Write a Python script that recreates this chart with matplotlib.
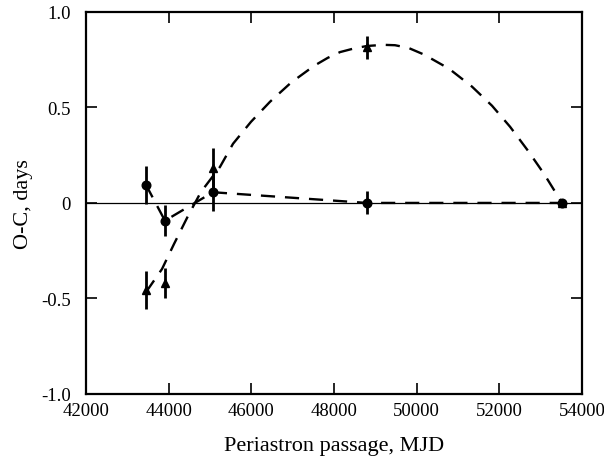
import matplotlib
matplotlib.use("Agg")
import matplotlib.pyplot as plt

plt.rcParams['font.family'] = ['Liberation Serif', 'DejaVu Serif']
plt.rcParams['axes.unicode_minus'] = False

# circle series (observed O-C)
circ_x = [43450, 43910, 45070, 48800, 53520]
circ_y = [0.095, -0.093, 0.056, 0.0, 0.0]
circ_err = [0.10, 0.08, 0.10, 0.06, 0.0]

# triangle series
tri_x = [43450, 43910, 45070, 48800, 53520]
tri_y = [-0.457, -0.42, 0.184, 0.815, 0.0]
tri_err = [0.10, 0.08, 0.105, 0.06, 0.0]

# dashed fit curve through triangles
fit_x = [43452, 43839, 44129, 44468, 44782, 45242, 45557, 45992, 46452, 46960,
         47517, 47850, 48146, 48500, 48799, 49200, 49476, 49800, 50178, 50783,
         51339, 51823, 52259, 52694, 53082, 53517]
fit_y = [-0.467, -0.346, -0.215, -0.068, 0.058, 0.189, 0.310, 0.425, 0.530, 0.630,
         0.718, 0.760, 0.790, 0.810, 0.822, 0.828, 0.826, 0.812, 0.777, 0.703,
         0.609, 0.509, 0.399, 0.273, 0.152, 0.0]

xticks = [42000, 44000, 46000, 48000, 50000, 52000, 54000]
xtick_labels = ["42000", "44000", "46000", "48000", "50000", "52000", "54000"]
yticks = [-1.0, -0.5, 0.0, 0.5, 1.0]
ytick_labels = ["-1.0", "-0.5", "0", "0.5", "1.0"]

fig = plt.figure(figsize=(6.04, 4.64), dpi=100)
ax = fig.add_axes([0.1424, 0.149, 0.8212, 0.823])

ax.axhline(0, color='black', lw=0.9, zorder=1)

ax.plot(fit_x, fit_y, color='black', lw=1.7, dashes=(6.0, 4.2), zorder=2)
ax.plot(circ_x, circ_y, color='black', lw=1.7, dashes=(6.0, 4.2), zorder=2)

ax.errorbar(circ_x, circ_y, yerr=circ_err, fmt='o', color='black', ms=6.2,
            elinewidth=2, capsize=0, zorder=3)
ax.errorbar(tri_x, tri_y, yerr=tri_err, fmt='^', color='black', ms=6,
            elinewidth=2, capsize=0, zorder=3)

ax.set_xlim(42000, 54000)
ax.set_ylim(-1.0, 1.0)
ax.set_xticks(xticks)
ax.set_xticklabels(xtick_labels)
ax.set_yticks(yticks)
ax.set_yticklabels(ytick_labels)
ax.tick_params(direction='in', length=8, width=1.2, top=True, right=True,
               labelsize=13.5)
ax.tick_params(axis='y', pad=11)
ax.tick_params(axis='x', pad=6)
for s in ax.spines.values():
    s.set_linewidth(1.6)

ax.set_xlabel("Periastron passage, MJD", fontsize=16, labelpad=12)
ax.set_ylabel("O-C, days", fontsize=16, labelpad=6)

fig.savefig("out.png", dpi=100)
